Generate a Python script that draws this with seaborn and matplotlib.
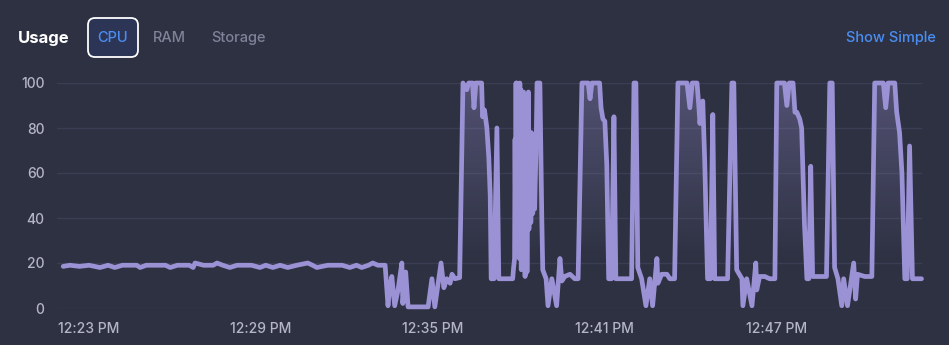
import numpy as np
import pandas as pd
import seaborn as sns
import matplotlib
matplotlib.use("Agg")
import matplotlib.pyplot as plt
from matplotlib.patches import FancyBboxPatch
from matplotlib.colors import LinearSegmentedColormap

# ---- data: seconds since 12:22:00 and CPU usage (%) ----
times = [6, 20, 40, 60, 83, 100, 114, 130, 160, 167, 180, 220, 230, 245, 270, 278, 282,
         300, 320, 328, 340, 355, 370, 400, 418, 430, 445, 460, 476, 495, 518, 528, 537,
         560, 590, 606, 620, 631, 645, 654, 665, 680,
         686, 690, 694, 700, 707, 715, 717, 723, 728, 770, 778, 784, 797, 803, 809, 816,
         820, 826, 836,
         843, 851, 855, 863, 866, 870, 882, 884, 888, 893, 897, 900, 902, 908, 914, 918,
         947, 949, 951, 952, 953, 954, 955, 956, 957, 958, 959, 960, 961, 962, 963, 964,
         965, 966, 967, 968, 969, 970, 971, 972, 973, 974, 975, 976, 977, 978, 979, 980,
         981, 982, 983, 984, 985, 986, 987, 988, 989, 990, 991, 992, 993, 994, 996, 998,
         1004, 1008, 1010, 1017, 1021, 1029, 1039, 1046, 1050, 1056, 1067, 1077, 1084,
         1092, 1105, 1109, 1113, 1129, 1132, 1136, 1140, 1144, 1148, 1154, 1159, 1163,
         1196, 1201, 1205, 1209, 1217, 1226, 1234, 1240, 1249, 1251, 1259, 1270, 1276, 1286,
         1293, 1312, 1318, 1323, 1333, 1337, 1339, 1345, 1349, 1355, 1361, 1366, 1370,
         1397, 1406, 1410, 1416, 1427, 1429, 1437, 1448, 1456, 1458, 1464, 1475, 1485, 1496,
         1500, 1516, 1521, 1526, 1534, 1538, 1542, 1548, 1552, 1558, 1563, 1567, 1571, 1575,
         1604, 1611, 1616, 1621, 1628, 1636, 1640, 1648, 1661, 1665, 1669, 1684, 1699,
         1705, 1723, 1728, 1733, 1747, 1751, 1757, 1762, 1768, 1773, 1778, 1784, 1803]
cpu = [18.5, 19, 18.5, 19, 18, 19, 18, 19, 19, 18, 19, 19, 18, 19, 19, 18, 20,
       19, 19, 20, 19, 18, 19, 19, 18, 19, 18, 19, 18, 19, 20, 19, 18,
       19, 19, 18, 19, 18, 19, 20, 19, 19,
       1, 10, 14, 1, 8, 20, 2, 16, 0.5, 0.5, 13, 0.5, 20, 9, 13, 11,
       15, 13, 13.5,
       100, 97, 100, 100, 89, 100, 100, 85, 88, 80, 67, 50, 13, 13, 80, 13,
       13, 18, 22, 75, 40, 100, 50, 100, 38, 98, 30, 90, 22, 100, 45, 97,
       17, 85, 40, 95, 20, 96, 35, 80, 14, 94, 30, 92, 16, 75, 40, 96,
       35, 74, 44, 72, 38, 78, 45, 70, 42, 75, 48, 62, 44, 55, 70, 100,
       100, 40, 17, 13, 1, 13, 1, 22, 12, 14, 15, 13, 13,
       100, 100, 93, 100, 100, 89, 84, 83, 64, 13, 13, 85, 13,
       13, 100, 100, 18, 13, 1, 13, 1, 22, 11, 15, 15, 13, 13,
       100, 100, 89, 100, 100, 89, 82, 92, 66, 13, 13, 86, 13,
       13, 100, 100, 17, 13, 1, 13, 1, 20, 8, 14, 14, 13, 13,
       100, 100, 90, 100, 100, 87, 87, 84, 80, 37, 13, 13, 63, 14,
       14, 100, 100, 18, 13, 1, 13, 1, 20, 4, 15, 14, 14,
       100, 100, 89, 100, 100, 87, 78, 60, 13, 13, 72, 13, 13]
tick_secs = [60, 420, 780, 1140, 1500]
tick_labels = ["12:23 PM", "12:29 PM", "12:35 PM", "12:41 PM", "12:47 PM"]
y_ticks = [0, 20, 40, 60, 80, 100]

BG = "#2e3142"
LINE = "#9a92d4"
GRID = "#3b3e52"
TICK = "#b4b5c6"

df = pd.DataFrame({"t": times, "cpu": cpu})

sns.set_theme(style="dark")
plt.rcParams["font.family"] = ["Inter", "DejaVu Sans"]

fig = plt.figure(figsize=(9.49, 3.45), dpi=100, facecolor=BG)
ax = fig.add_axes([57 / 949, 37 / 345, 865 / 949, 225 / 345])
ax.set_facecolor(BG)

xmin, xmax = -7, 1804
# gradient fill under the line
poly = ax.fill_between(df["t"], df["cpu"], 0, color="none", linewidth=0)
path = poly.get_paths()[0]
cmap = LinearSegmentedColormap.from_list(
    "g", [(0.0, (0.6, 0.57, 0.83, 0.0)), (0.2, (0.6, 0.57, 0.83, 0.0)),
          (1.0, (0.6, 0.57, 0.83, 0.34))])
grad = np.linspace(0, 1, 256).reshape(-1, 1)
im = ax.imshow(grad, extent=[xmin, xmax, 0, 100], origin="lower", aspect="auto",
               cmap=cmap, zorder=1)
im.set_clip_path(path, transform=ax.transData)

sns.lineplot(data=df, x="t", y="cpu", ax=ax, color=LINE, linewidth=3.4,
             estimator=None, sort=False, zorder=3)
for ln in ax.lines:
    ln.set_clip_on(False)
    ln.set_solid_joinstyle("round")
    ln.set_solid_capstyle("round")

ax.set_xlim(xmin, xmax)
ax.set_ylim(0, 100)
ax.set_xticks(tick_secs)
ax.set_xticklabels(tick_labels)
ax.set_yticks(y_ticks)
ax.set_xlabel("")
ax.set_ylabel("")
ax.grid(False)
ax.yaxis.grid(True, color=GRID, linewidth=1)
ax.set_axisbelow(True)
for s in ax.spines.values():
    s.set_visible(False)
ax.tick_params(axis="both", length=0, colors=TICK, labelsize=10)
ax.tick_params(axis="y", pad=9)
ax.tick_params(axis="x", pad=10)
for lab in ax.get_xticklabels() + ax.get_yticklabels():
    lab.set_fontweight("medium")

# header
yc = 1 - 38 / 345
fig.text(18 / 949, yc, "Usage", color="white", fontsize=12, fontweight="bold",
         va="center", ha="left")
box = FancyBboxPatch((0.88 + 0.07, 2.88 + 0.07), 0.50 - 0.14, 0.39 - 0.14,
                     boxstyle="round,pad=0.07", transform=fig.dpi_scale_trans,
                     facecolor="#2c3556", edgecolor="white", linewidth=1.3)
fig.patches.append(box)
fig.text(113 / 949, yc, "CPU", color="#4a8ef2", fontsize=10.5, fontweight="medium",
         va="center", ha="center")
fig.text(153 / 949, yc, "RAM", color="#7f8298", fontsize=10.5, fontweight="medium",
         va="center", ha="left")
fig.text(211 / 949, yc, "Storage", color="#7f8298", fontsize=10.5, fontweight="medium",
         va="center", ha="left")
fig.text(936 / 949, yc, "Show Simple", color="#4a8ef2", fontsize=10.5, fontweight="medium",
         va="center", ha="right")

fig.savefig("out.png", dpi=100, facecolor=BG)
